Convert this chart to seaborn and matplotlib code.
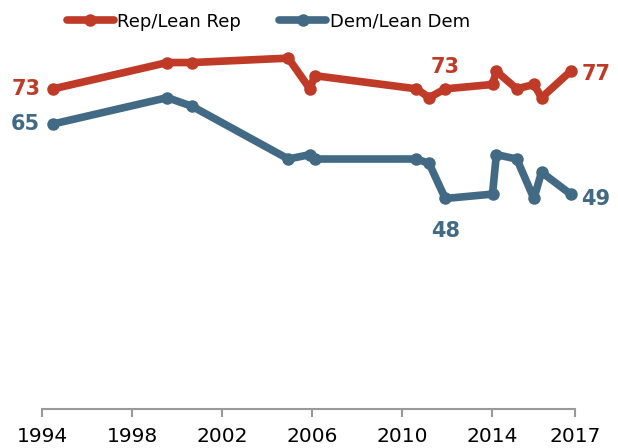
import matplotlib
matplotlib.use('Agg')
import matplotlib.pyplot as plt
from matplotlib.lines import Line2D
import pandas as pd
import seaborn as sns

# survey dates (decimal years)
years = [1994.5, 1999.57, 2000.68, 2004.95, 2005.91, 2006.13, 2010.65, 2011.21,
         2011.93, 2014.03, 2014.2, 2015.11, 2015.87, 2016.21, 2017.5]
rep = [73, 79, 79, 80, 73, 76, 73, 71, 73, 74, 77, 73, 74, 71, 77]
dem = [65, 71, 69, 57, 58, 57, 57, 56, 48, 49, 58, 57, 48, 54, 49]
series = ['Rep/Lean Rep', 'Dem/Lean Dem']
tick_years = [1994, 1998, 2002, 2006, 2010, 2014, 2017.7]
tick_labels = ['1994', '1998', '2002', '2006', '2010', '2014', '2017']

red = '#bf3b27'
blue = '#436a85'
sns.set_style('white')
plt.rcParams['font.family'] = ['DejaVu Sans']

df = pd.DataFrame({
    'year': years * 2,
    'value': rep + dem,
    'party': [series[0]] * len(rep) + [series[1]] * len(dem),
})

fig = plt.figure(figsize=(6.18, 4.48), dpi=100)
ax = fig.add_axes([0.068, 0.0871, 0.8625, 0.881])

sns.lineplot(data=df, x='year', y='value', hue='party', palette=[red, blue],
             marker='o', markersize=9, markeredgewidth=0, linewidth=5.5,
             estimator=None, legend=False, ax=ax, clip_on=False)

ax.set_xlim(1994, 2017.7)
ax.set_ylim(0, 90)
ax.set_xlabel('')
ax.set_ylabel('')
ax.set_yticks([])
ax.set_xticks(tick_years)
ax.set_xticklabels(tick_labels)
ax.tick_params(axis='x', bottom=True, length=6, width=1.5, color='#999999', pad=7,
               labelsize=14.5, labelcolor='black', direction='out')
for s in ['top', 'left', 'right']:
    ax.spines[s].set_visible(False)
ax.spines['bottom'].set_color('#999999')
ax.spines['bottom'].set_linewidth(1.5)

# value labels
def lab(x, y, txt, color, dx, dy, ha):
    ax.annotate(txt, xy=(x, y), xytext=(dx, dy), textcoords='offset pixels',
                ha=ha, va='center', color=color, fontsize=15, fontweight='bold',
                annotation_clip=False)

lab(years[0], rep[0], str(rep[0]), red, -13, 0, 'right')
lab(years[0], dem[0], str(dem[0]), blue, -13, 0, 'right')
lab(years[8], rep[8], str(rep[8]), red, 0, 22, 'center')
lab(years[8], dem[8], str(dem[8]), blue, 0, -33, 'center')
lab(years[-1], rep[-1], str(rep[-1]), red, 11, -3, 'left')
lab(years[-1], dem[-1], str(dem[-1]), blue, 11, -5, 'left')

handles = [Line2D([], [], color=c, linewidth=5.5, marker='o', markersize=9,
                  markeredgewidth=0) for c in [red, blue]]
leg = fig.legend(handles, series, loc='center', bbox_to_anchor=(0.434, 0.952), ncol=2,
                 frameon=False, fontsize=13, handlelength=2.6, handletextpad=0.2,
                 columnspacing=2.1, markerscale=1)
for t in leg.get_texts():
    t.set_color('black')

fig.savefig('out.png', dpi=100)
